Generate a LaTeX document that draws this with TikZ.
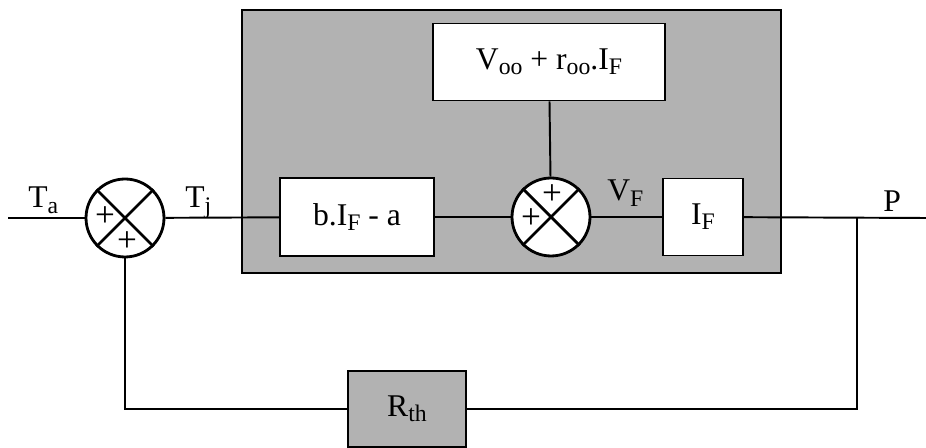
\documentclass[tikz,border=0pt]{standalone}
\usepackage{fontspec}
\setmainfont{Liberation Serif}
\usetikzlibrary{positioning,calc}
\definecolor{PanelGray}{RGB}{178,178,178}
\newcommand{\lowtxt}[1]{\raisebox{-0.35ex}{\fontsize{13.5}{15}\selectfont #1}}
\tikzset{
  lbl/.style={font=\fontsize{18}{20}\selectfont,inner sep=0pt,anchor=base west},
  block/.style={draw=black,line width=1.1pt,fill=white,font=\fontsize{18}{20}\selectfont,inner sep=0pt},
  panel/.style={draw=black,line width=1.1pt,fill=PanelGray,inner sep=0pt},
  summer/.style={circle,draw=black,line width=1.6pt,fill=white,minimum size=1.56cm,inner sep=0pt},
  plus/.style={font=\fontsize{20}{22}\selectfont,inner sep=0pt},
  wire/.style={line width=1.1pt,draw=black}
}
\begin{document}
\begin{tikzpicture}[x=0.02cm,y=-0.02cm]
  \useasboundingbox (0,0) rectangle (926,448);
  % forward path
  \node[panel,minimum width=10.78cm,minimum height=5.26cm] (box) at (511.5,141.5) {};
  \node[summer] (s1) at (125,218) {};
  \node[summer] (s2) at (551,217) {};
  \node[block,minimum width=4.64cm,minimum height=1.54cm] (voo) at (549,62) {V\lowtxt{oo} + r\lowtxt{oo}.I\lowtxt{F}};
  \node[block,minimum width=3.08cm,minimum height=1.56cm] (gain) at (357,217) {b.I\lowtxt{F} - a};
  \node[block,minimum width=1.6cm,minimum height=1.54cm] (ifb) at (703,217) {I\lowtxt{F}};
  \node[block,fill=PanelGray,minimum width=2.36cm,minimum height=1.52cm] (rth) at (407,409) {R\lowtxt{th}};
  \foreach \s in {s1,s2}{
    \draw[line width=1.6pt] (\s.north west) -- (\s.south east);
    \draw[line width=1.6pt] (\s.north east) -- (\s.south west);
  }
  \node[plus] at (105,217) {+};
  \node[plus] at (127,242) {+};
  \node[plus] at (552,195) {+};
  \node[plus] at (531,219) {+};
  \coordinate (in) at (8,218);
  \coordinate (out) at (926,218);
  \coordinate (br) at (857,218);
  \draw[wire] (in) -- (s1);
  \draw[wire] (s1) -- (gain);
  \draw[wire] (gain) -- (s2);
  \draw[wire] (voo) -- (s2);
  \draw[wire] (s2) -- (ifb);
  \draw[wire] (ifb) -- (out);
  % feedback
  \draw[wire] (br) |- (rth);
  \draw[wire] (rth) -| (s1);
  \node[lbl] (ta) at (28,208) {T\lowtxt{a}};
  \node[lbl] (tj) at (185,208) {T\lowtxt{j}};
  \node[lbl] (vf) at (607,201) {V\lowtxt{F}};
  \node[lbl] (p) at (883,212) {P};
\end{tikzpicture}
\end{document}
